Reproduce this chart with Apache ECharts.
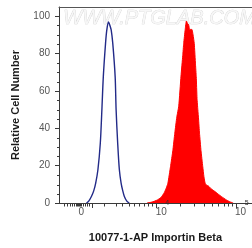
<!DOCTYPE html>
<html><head><meta charset="utf-8">
<script src="https://cdn.jsdelivr.net/npm/echarts@6/dist/echarts.min.js"></script>
<style>html,body{margin:0;padding:0;background:#fff}#c{width:252px;height:248px}</style>
</head><body><div id="c"></div>
<script>
// x values are positions on the logicle axis in decade units (4 = 10^4, 5 = 10^5)
const blueX = [3.116,3.144,3.178,3.207,3.232,3.260,3.290,3.310,3.328,3.356,3.372,3.393,3.412,3.427,3.447,3.477,3.489,3.509,3.530,3.552,3.573,3.593,3.624,3.655];
const blueY = [0,1,3.5,6.5,10.7,17.8,32,50,67.7,85.5,92.7,97,95,92.7,85.5,67.7,50,32,17.8,10.7,6.5,3.5,1,0];
const redX = [3.879,3.941,4.007,4.054,4.091,4.116,4.141,4.174,4.203,4.228,4.253,4.278,4.306,4.328,4.340,4.359,4.374,4.390,4.402,4.415,4.443,4.458,4.473,4.489,4.498,4.508,4.518,4.527,4.539,4.558,4.580,4.595,4.610,4.626,4.651,4.689,4.735,4.776,4.817,4.879,4.925,4.963];
const redY = [0,0.5,1.6,3,5.2,7.5,10.6,19.5,28,37.4,46,52,68,79,85.5,93,97.5,96,95.6,93,93,90,85.5,74,67.7,56,50,45,37.4,28,19.5,14,10.6,9.6,9.1,7.5,6.1,4.7,3.4,1.6,0.6,0];
const xLabelValues = [3.05, 4, 5];
const xLabelTexts = ['0', '10', '10'];
const xSupValues = [4, 5];
const xSupTexts = ['4', '5'];
const xMajorTicks = [3.194, 4, 5];
const xMinorTicks = [2.838,2.875,2.912,2.937,2.962,2.987,2.999,3.011,3.024,3.036,3.048,3.073,3.098,3.123,3.148,
  3.346,3.491,3.569,3.656,3.718,3.780,3.842,3.892,3.942,
  4.301,4.477,4.602,4.699,4.778,4.845,4.903,4.954];
const yLabelValues = [0,20,40,60,80,100];
const yMinorTicks = [5,10,15,25,30,35,45,50,55,65,70,75,85,90,95];

const axisColor = '#3a3a3a';
const labelColor = '#555';
const fam = '"Liberation Sans", Arial, sans-serif';
const xMin = 2.77, xMax = 5.2, yMin = 0, yMax = 105;
const gridRect = {left: 59, right: -2, top: 7, bottom: 44.5};
const hidden = {axisLine: {show: false}, axisTick: {show: false}, axisLabel: {show: false}, splitLine: {show: false}};

const chart = echarts.init(document.getElementById('c'));
chart.setOption({
  animation: false,
  grid: [Object.assign({}, gridRect), Object.assign({}, gridRect), Object.assign({}, gridRect)],
  graphic: [{
    type: 'text', left: 63, top: 8, z: -1, silent: true,
    style: {text: 'WWW.PTGLAB.COM', font: 'italic 20px ' + fam,
      fill: '#f7f7f7', stroke: '#cdcdcd', lineWidth: 0.6}
  }],
  xAxis: [{
    gridIndex: 0, type: 'value', min: xMin, max: xMax, position: 'bottom', z: 10,
    axisLine: {onZero: false, lineStyle: {color: axisColor, width: 1}},
    splitLine: {show: false},
    axisTick: {customValues: xMajorTicks, length: 5, lineStyle: {color: axisColor}},
    axisLabel: {
      customValues: xLabelValues, margin: 4,
      formatter: function (v) {
        const i = xLabelValues.indexOf(v);
        const t = i >= 0 ? xLabelTexts[i] : '';
        return t === '0' ? '{z|' + t + '}' : '{b|' + t + '}';
      },
      rich: {
        b: {fontSize: 10, color: labelColor, padding: [0, 0, 0, 9], fontFamily: fam},
        z: {fontSize: 10, color: labelColor, fontFamily: fam}
      }
    },
    name: '10077-1-AP Importin Beta', nameLocation: 'middle', nameGap: 29,
    nameTextStyle: {fontSize: 11, fontWeight: 'bold', color: '#1a1a1a', fontFamily: fam}
  }, Object.assign({}, hidden, {
    gridIndex: 1, type: 'value', min: xMin, max: xMax, position: 'bottom', z: 10,
    axisTick: {show: true, customValues: xMinorTicks, length: 3, lineStyle: {color: axisColor}}
  }), Object.assign({}, hidden, {
    gridIndex: 1, type: 'value', min: xMin, max: xMax, position: 'top',
    axisLine: {show: true, onZero: false, lineStyle: {color: '#555', width: 1}}
  }), Object.assign({}, hidden, {
    gridIndex: 2, type: 'value', min: xMin, max: xMax, position: 'bottom', z: 10,
    axisLabel: {
      show: true, customValues: xSupValues, margin: -4, showMinLabel: true, showMaxLabel: true,
      formatter: function (v) {
        const i = xSupValues.indexOf(v);
        return '{s|' + (i >= 0 ? xSupTexts[i] : '') + '}';
      },
      rich: {s: {fontSize: 7, color: '#333', padding: [0, 0, 0, 21], fontFamily: fam}}
    }
  })],
  yAxis: [{
    gridIndex: 0, type: 'value', min: yMin, max: yMax,
    axisLine: {show: true, onZero: false, lineStyle: {color: axisColor, width: 1}},
    splitLine: {show: false},
    axisTick: {customValues: yLabelValues, length: 4, lineStyle: {color: axisColor}},
    axisLabel: {customValues: yLabelValues, margin: 9, fontSize: 10, color: labelColor, fontFamily: fam},
    name: 'Relative Cell Number', nameLocation: 'middle', nameGap: 38,
    nameTextStyle: {fontSize: 11, fontWeight: 'bold', color: '#1a1a1a', fontFamily: fam}
  }, Object.assign({}, hidden, {
    gridIndex: 1, type: 'value', min: yMin, max: yMax, position: 'left',
    axisTick: {show: true, customValues: yMinorTicks, length: 2, lineStyle: {color: axisColor}}
  }), Object.assign({}, hidden, {
    gridIndex: 2, type: 'value', min: yMin, max: yMax, position: 'left'
  })],
  series: [{
    type: 'line', xAxisIndex: 0, yAxisIndex: 0, symbol: 'none', smooth: 0.15, z: 1,
    data: redX.map((x, i) => [x, redY[i]]),
    lineStyle: {color: '#ff0000', width: 1},
    areaStyle: {color: '#ff0000', opacity: 1}
  }, {
    type: 'line', xAxisIndex: 0, yAxisIndex: 0, symbol: 'none', smooth: 0.3, z: 1,
    data: blueX.map((x, i) => [x, blueY[i]]),
    lineStyle: {color: '#222a88', width: 1.4}
  }]
});
</script></body></html>
